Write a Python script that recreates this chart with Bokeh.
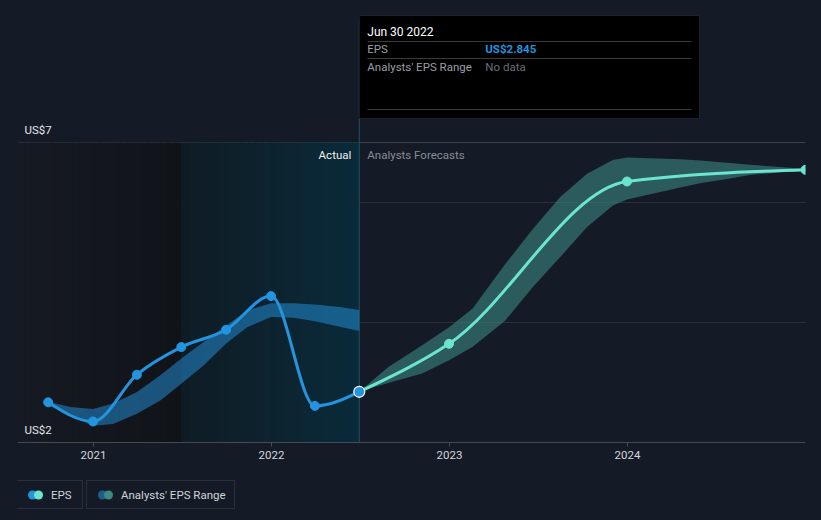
import numpy as np
import pandas as pd
from bokeh.plotting import figure
from bokeh.models import (Range1d, DatetimeAxis, FixedTicker, DatetimeTickFormatter,
                          Grid, Span, Legend, LegendItem)
from bokeh.embed import file_html
from bokeh.resources import INLINE
from bokeh.core.properties import value

# ---------------- data ----------------
actual_dates = ["2020-09-30", "2020-12-31", "2021-03-31", "2021-06-30",
                "2021-09-30", "2021-12-31", "2022-03-31", "2022-06-30"]
actual_eps = [2.67, 2.35, 3.13, 3.59, 3.88, 4.44, 2.61, 2.845]

forecast_dates = ["2022-06-30", "2022-12-31", "2023-12-31", "2024-12-31"]
forecast_eps = [2.845, 3.645, 6.35, 6.545]

past_range_dates = ["2020-09-30", "2020-11-15", "2020-12-31", "2021-02-10", "2021-03-31",
                    "2021-05-18", "2021-06-30", "2021-08-14", "2021-09-30", "2021-11-12",
                    "2021-12-31", "2022-02-15", "2022-03-31", "2022-05-21", "2022-06-30"]
past_range_high = [2.68, 2.59, 2.56, 2.65, 2.84, 3.12, 3.40, 3.67, 3.95, 4.20,
                   4.32, 4.32, 4.30, 4.26, 4.21]
past_range_low = [2.62, 2.45, 2.28, 2.31, 2.48, 2.70, 2.98, 3.28, 3.65, 3.92,
                  4.09, 4.08, 4.02, 3.93, 3.86]

fc_range_dates = ["2022-06-30", "2022-08-28", "2022-11-06", "2022-12-31", "2023-02-17",
                  "2023-04-25", "2023-06-21", "2023-08-16", "2023-10-10", "2023-12-02",
                  "2023-12-31", "2024-04-18", "2024-05-29", "2024-07-29", "2024-09-08",
                  "2024-11-09", "2024-12-31"]
fc_range_high = [2.845, 3.255, 3.62, 3.92, 4.23, 4.97, 5.56, 6.09, 6.48, 6.71,
                 6.75, 6.72, 6.70, 6.66, 6.63, 6.59, 6.56]
fc_range_low = [2.845, 2.99, 3.15, 3.37, 3.59, 4.03, 4.59, 5.09, 5.59, 5.95,
                6.05, 6.25, 6.32, 6.40, 6.46, 6.50, 6.53]

x_tick_dates = ["2021-01-01", "2022-01-01", "2023-01-01", "2024-01-01"]
y_grid_values = [4, 6]
y_top_value = 7
y_label_values = [2, 7]
y_label_texts = ["US$2", "US$7"]

# ---------------- style ----------------
BG = "#151b26"
BLUE = "#2394df"
TEAL = "#6ce5d0"
FONT = "Roboto"
DAY = 86400000.0


def ms(dates):
    return pd.to_datetime(dates).values.astype("datetime64[ms]").astype("int64").astype(float)


def monotone_bezier(xs, ys):
    xs = np.asarray(xs, float)
    ys = np.asarray(ys, float)
    n = len(xs)
    h = np.diff(xs)
    s = np.diff(ys) / h
    t = np.zeros(n)
    for i in range(1, n - 1):
        h0, h1, s0, s1 = h[i - 1], h[i], s[i - 1], s[i]
        pp = (s0 * h1 + s1 * h0) / (h0 + h1)
        t[i] = (np.sign(s0) + np.sign(s1)) * min(abs(s0), abs(s1), 0.5 * abs(pp))
    if n > 2:
        t[0] = (3 * s[0] - t[1]) / 2
        t[-1] = (3 * s[-1] - t[-2]) / 2
    else:
        t[0] = t[-1] = s[0]
    dx = h / 3
    return dict(x0=xs[:-1], y0=ys[:-1], x1=xs[1:], y1=ys[1:],
                cx0=xs[:-1] + dx, cy0=ys[:-1] + dx * t[:-1],
                cx1=xs[1:] - dx, cy1=ys[1:] - dx * t[1:])


ax = ms(actual_dates)
fx = ms(forecast_dates)
t2021 = ms(["2021-01-01"])[0]

# pixel geometry of the frame (page coordinates)
W, H = 821, 520
FR_L, FR_R, FR_T, FR_B = 17, 805, 0, 520
PX_PER_DAY = 178 / 365.0
x_start = t2021 - (93 - FR_L) / PX_PER_DAY * DAY
x_end = x_start + (FR_R - FR_L) / PX_PER_DAY * DAY
PX_PER_UNIT = 60.0
y_end = 2 + (442 - FR_T) / PX_PER_UNIT
y_start = y_end - (FR_B - FR_T) / PX_PER_UNIT
PX_X = (x_end - x_start) / (FR_R - FR_L)


def x_of_px(px):
    return x_start + (px - FR_L) * PX_X


def y_of_px(py):
    return y_end - (py - FR_T) / (FR_B - FR_T) * (y_end - y_start)


p = figure(width=W, height=H, output_backend="svg", toolbar_location=None,
           x_axis_type=None, y_axis_type=None,
           x_range=Range1d(x_start, x_end), y_range=Range1d(y_start, y_end),
           min_border_left=FR_L, min_border_right=W - FR_R,
           min_border_top=0, min_border_bottom=0,
           background_fill_color=BG, border_fill_color=BG, outline_line_color=None)

# grid / axis
p.add_layout(Grid(dimension=1, ticker=FixedTicker(ticks=y_grid_values),
                  grid_line_color="#2a2e37", grid_line_width=1))
p.add_layout(Span(location=y_top_value, dimension="width", line_color="#3c4048",
                  line_width=1, level="underlay"))

fmt = DatetimeTickFormatter(microseconds="%Y", milliseconds="%Y", seconds="%Y",
                            minsec="%Y", minutes="%Y", hourmin="%Y", hours="%Y",
                            days="%Y", months="%Y", years="%Y")
xaxis = DatetimeAxis(fixed_location=2, ticker=FixedTicker(ticks=list(ms(x_tick_dates))),
                     formatter=fmt)
xaxis.axis_line_color = "#464a52"
xaxis.major_tick_line_color = "#464a52"
xaxis.major_tick_out = 4
xaxis.major_tick_in = 0
xaxis.minor_tick_line_color = None
xaxis.major_label_standoff = 4
xaxis.major_label_text_color = "#d3d6db"
xaxis.major_label_text_font = FONT
xaxis.major_label_text_font_size = "11.5px"
p.add_layout(xaxis, "below")

# shaded background regions (stepped gradients)
last_actual = ax[-1]
year_before = ms(["2021-06-30"])[0]
N = 24


def gradient(x0, x1, c0, c1):
    edges = np.linspace(x0, x1, N + 1)
    c0 = np.array(c0); c1 = np.array(c1)
    cols = ["#%02x%02x%02x" % tuple(np.round(c0 + (c1 - c0) * k / (N - 1)).astype(int))
            for k in range(N)]
    right = np.minimum(edges[1:] + PX_X, x1)
    p.quad(left=edges[:-1], right=right, bottom=2, top=y_top_value, fill_color=cols,
           line_color=None)


gradient(x_start, year_before, [22, 26, 34], [16, 19, 24])
gradient(year_before, last_actual, [15, 28, 37], [10, 42, 57])

# vertical "today" line
p.segment(x0=[last_actual], y0=[2], x1=[last_actual], y1=[y_of_px(20)],
          line_color="#22505f", line_width=1)

# y labels
p.text(x=[x_start] * 2, y=y_label_values, text=y_label_texts, x_offset=7, y_offset=-13,
       text_baseline="alphabetic", text_align="left", text_color="#e4e6ea",
       text_font=value(FONT), text_font_size="11.5px")

# Actual / Forecast labels
p.text(x=[last_actual], y=[y_of_px(154)], text=["Actual"], x_offset=-8,
       text_align="right", text_baseline="middle", text_color="#eeeeee",
       text_font=value(FONT), text_font_size="11.5px")
p.text(x=[last_actual], y=[y_of_px(154)], text=["Analysts Forecasts"], x_offset=8,
       text_align="left", text_baseline="middle", text_color="#878c94",
       text_font=value(FONT), text_font_size="11.5px")

# bands
p.varea(x=ms(past_range_dates), y1=past_range_low, y2=past_range_high,
        fill_color="#2394df", fill_alpha=0.5)
p.varea(x=ms(fc_range_dates), y1=fc_range_low, y2=fc_range_high,
        fill_color="#3e8f88", fill_alpha=0.55)

# lines
p.bezier(**monotone_bezier(ax, actual_eps), line_color=BLUE, line_width=3)
p.scatter(x=ax[:-1], y=actual_eps[:-1], size=9, fill_color=BLUE, line_color=BLUE)
p.bezier(**monotone_bezier(fx, forecast_eps), line_color=TEAL, line_width=3)
p.scatter(x=fx[1:], y=forecast_eps[1:], size=9, fill_color=TEAL, line_color=TEAL)
p.scatter(x=[ax[-1]], y=[actual_eps[-1]], size=11, fill_color=BLUE,
          line_color="#ffffff", line_width=1.2)

# tooltip
p.quad(left=[last_actual], right=[x_of_px(699)], top=[y_of_px(15)], bottom=[y_of_px(118)],
       fill_color="#000000", line_color="#1c2029", line_width=1)
p.segment(x0=[x_of_px(367)] * 3, x1=[x_of_px(691)] * 3,
          y0=[y_of_px(41), y_of_px(58), y_of_px(109)],
          y1=[y_of_px(41), y_of_px(58), y_of_px(109)],
          line_color="#3a3a3c", line_width=1)
date_txt = pd.Timestamp(actual_dates[-1]).strftime("%b %d %Y")
p.text(x=[last_actual], y=[y_of_px(31)], text=[date_txt], x_offset=8,
       text_baseline="middle", text_color="#ffffff", text_font=value(FONT),
       text_font_size="12px")
p.text(x=[last_actual] * 2, y=[y_of_px(48), y_of_px(66)], text=["EPS", "Analysts' EPS Range"],
       x_offset=8, text_baseline="middle", text_color="#9a9ea5", text_font=value(FONT),
       text_font_size="11.5px")
p.text(x=[last_actual], y=[y_of_px(48)], text=["US$%.3f" % actual_eps[-1]], x_offset=126,
       text_baseline="middle", text_color=BLUE, text_font=value(FONT),
       text_font_size="11.5px", text_font_style="bold")
p.text(x=[last_actual], y=[y_of_px(66)], text=["No data"], x_offset=126,
       text_baseline="middle", text_color="#6b6f76", text_font=value(FONT),
       text_font_size="11.5px")


# legends (swatches: two round dots drawn as dashed thick lines)
def dots(c1, c2):
    a = p.line(x=[np.nan], y=[np.nan], line_color=c1, line_width=9, line_cap="round",
               line_dash="0 40", line_dash_offset=30)
    b = p.line(x=[np.nan], y=[np.nan], line_color=c2, line_width=9, line_cap="round",
               line_dash="0 40", line_dash_offset=24)
    return [a, b]


def make_legend(label, rends, x, lw):
    return Legend(items=[LegendItem(label=label, renderers=rends)], location=(x, 11),
                  orientation="horizontal", padding=5, margin=0, spacing=0,
                  glyph_width=22, glyph_height=17, label_height=17, label_width=lw,
                  label_standoff=7, border_line_color="#3d414a", border_line_width=1,
                  background_fill_alpha=0, label_text_color="#d0d3d8",
                  label_text_font=FONT, label_text_font_size="11.5px")


p.add_layout(make_legend("EPS", dots(BLUE, TEAL), -1, 26))
p.add_layout(make_legend("Analysts' EPS Range", dots("#1f5d8c", "#3d8a83"), 69, 108))

style = "<style>body{background-color:%s;}</style>" % BG
open("out.html", "w").write(file_html(p, INLINE).replace("</head>", style + "</head>"))
